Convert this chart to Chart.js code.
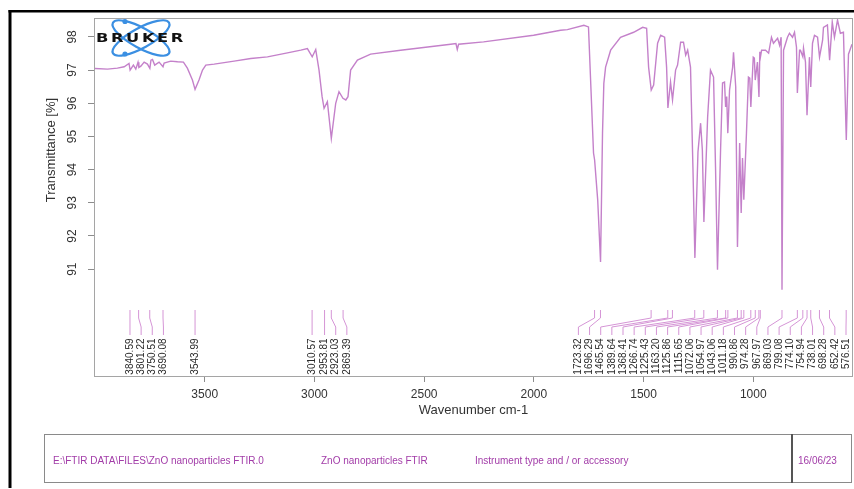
<!DOCTYPE html>
<html>
<head>
<meta charset="utf-8">
<title>ZnO nanoparticles FTIR</title>
<script src="https://cdn.jsdelivr.net/npm/chart.js@4.4.0/dist/chart.umd.min.js"></script>
<style>
    html, body { margin: 0; padding: 0; background: #fff; }
    #wrap { position: relative; width: 854px; height: 489px; overflow: hidden; }
    #grafikFtir { position: absolute; left: 0; top: 0; }
    .footer {
        position: absolute; left: 44px; top: 434px; width: 808px; height: 49px;
        border: 1px solid #8a8a8a; box-sizing: border-box;
        font-family: "Liberation Sans", Arial, sans-serif; font-size: 10px; color: #a23ca8;
    }
    .footer span { position: absolute; top: 20px; white-space: nowrap; }
    .footer .sep { position: absolute; left: 746px; top: -1px; bottom: -1px; width: 2px; background: #555; }
</style>
</head>
<body>
<div id="wrap">
    <canvas id="grafikFtir" width="854" height="489"></canvas>
    <div class="footer">
        <span style="left:8px">E:\FTIR DATA\FILES\ZnO nanoparticles FTIR.0</span>
        <span style="left:276px">ZnO nanoparticles FTIR</span>
        <span style="left:430px">Instrument type and / or accessory</span>
        <div class="sep"></div>
        <span style="left:753px">16/06/23</span>
    </div>
</div>
<script>
let chart;

const FONT = '"Liberation Sans", Arial, sans-serif';

// spectrum (cm-1, %T)
const wavenumbers = [
    4000, 3943, 3898, 3867, 3845, 3840, 3825, 3814, 3804, 3800, 3791, 3776, 3761, 3750, 3745,
    3738, 3728, 3708, 3690, 3685, 3655, 3624, 3597, 3579, 3556, 3544, 3526, 3510, 3495, 3457,
    3366, 3290, 3214, 3123, 3062, 3032, 3010, 2994, 2979, 2965, 2956, 2941, 2923, 2903, 2888,
    2870, 2857, 2847, 2835, 2804, 2744, 2607, 2379, 2355, 2349, 2343, 2229, 2001, 1878, 1847,
    1772, 1751, 1728, 1723, 1709, 1696, 1687, 1681, 1673, 1650, 1605, 1545, 1504, 1486, 1477,
    1465, 1454, 1436, 1422, 1404, 1395, 1389, 1377, 1368, 1354, 1345, 1331, 1318, 1308, 1299,
    1286, 1275, 1266, 1252, 1240, 1232, 1225, 1208, 1195, 1181, 1172, 1163, 1149, 1140, 1131,
    1126, 1121, 1116, 1108, 1094, 1090, 1080, 1072, 1062, 1055, 1049, 1043, 1031, 1022, 1016,
    1011, 1000, 995, 991, 981, 974, 970, 967, 962, 944, 930, 917, 908, 889, 880,
    873, 869, 862, 844, 835, 821, 812, 803, 799, 789, 785, 774, 771, 762, 755,
    744, 738, 730, 721, 707, 698, 684, 680, 662, 652, 640, 630, 616, 603, 589,
    576, 566, 550
];
const transmittance = [
    97.05, 97.03, 97.06, 97.10, 97.20, 97.00, 97.15, 97.03, 97.24, 97.08, 97.12, 97.24, 97.18, 97.05, 97.30,
    97.32, 97.15, 97.24, 97.10, 97.21, 97.27, 97.25, 97.24, 97.06, 96.70, 96.42, 96.70, 97.00, 97.15, 97.18,
    97.27, 97.35, 97.40, 97.52, 97.60, 97.65, 97.40, 97.62, 97.00, 96.20, 95.85, 96.05, 94.94, 96.00, 96.35,
    96.15, 96.10, 96.20, 97.00, 97.30, 97.48, 97.60, 97.78, 97.80, 97.62, 97.78, 97.85, 98.05, 98.20, 98.22,
    98.35, 98.30, 94.50, 94.29, 93.09, 91.22, 95.10, 96.60, 97.09, 97.60, 97.99, 98.14, 98.29, 98.26, 97.09,
    96.40, 96.55, 97.81, 98.05, 97.99, 97.09, 95.86, 96.64, 96.10, 97.00, 97.15, 97.84, 97.84, 97.45, 97.60,
    97.09, 94.08, 91.34, 94.53, 95.40, 94.59, 92.42, 95.58, 97.00, 96.79, 94.08, 90.98, 94.59, 96.61, 96.64,
    95.89, 96.20, 95.10, 96.40, 97.09, 97.54, 96.50, 91.67, 94.80, 92.69, 94.35, 93.09, 95.10, 96.79, 96.76,
    95.89, 97.39, 97.36, 96.70, 97.24, 96.19, 97.55, 97.40, 97.60, 97.60, 97.51, 97.99, 97.81, 97.96, 97.75,
    97.99, 90.38, 97.60, 97.99, 98.11, 97.99, 98.14, 97.69, 96.31, 97.60, 97.60, 97.40, 97.66, 97.24, 95.64,
    97.39, 96.49, 97.81, 98.05, 97.99, 97.39, 97.90, 98.29, 98.36, 97.30, 98.45, 97.99, 98.51, 98.11, 98.14,
    94.89, 97.48, 97.78
];

// picked peaks, left to right
const peakPositions = [
    3840.59, 3801.22, 3750.51, 3690.08, 3543.99, 3010.57, 2953.81, 2923.03, 2869.39,
    1723.32, 1696.29, 1465.54, 1389.64, 1368.41, 1266.74, 1225.43, 1163.20, 1125.86, 1115.65,
    1072.06, 1054.97, 1043.06, 1011.18, 990.86, 974.28, 967.97, 869.03, 799.08, 774.10,
    754.94, 738.01, 698.28, 652.42, 576.51
];

const xTicks = [3500, 3000, 2500, 2000, 1500, 1000];
const yTicks = [91, 92, 93, 94, 95, 96, 97, 98];

// frame, box round the plot, rotated y labels
const framePlugin = {
    id: "frame",
    afterDraw(c) {
        const { ctx, chartArea: a, scales } = c;
        ctx.save();
        ctx.fillStyle = "#000";
        ctx.fillRect(8.5, 10, 3, 478);
        ctx.fillRect(8.5, 10, 846, 2.5);

        ctx.strokeStyle = "#a5a5a5";
        ctx.lineWidth = 1;
        ctx.strokeRect(Math.round(a.left) - 0.5, Math.round(a.top) - 0.5, a.width + 1, a.height + 1);

        ctx.fillStyle = "#333";
        ctx.font = "12px " + FONT;
        ctx.textAlign = "center";
        ctx.textBaseline = "middle";
        yTicks.forEach(v => {
            ctx.save();
            ctx.translate(73, scales.y.getPixelForValue(v));
            ctx.rotate(-Math.PI / 2);
            ctx.fillText(String(v), 0, 0);
            ctx.restore();
        });

        ctx.font = "13px " + FONT;
        const mid = (scales.y.getPixelForValue(yTicks[0]) + scales.y.getPixelForValue(yTicks[yTicks.length - 1])) / 2;
        ctx.translate(51, mid - 3);
        ctx.rotate(-Math.PI / 2);
        ctx.fillText("Transmittance [%]", 0, 0);
        ctx.restore();
    }
};

// peak markers with spread-out labels
const peakPlugin = {
    id: "peaks",
    afterDatasetsDraw(c) {
        const { ctx, chartArea: a, scales } = c;
        const gap = 11.15;
        const px = peakPositions.map(w => scales.x.getPixelForValue(w));
        const pos = px.slice();
        for (let i = 1; i < pos.length; i++) pos[i] = Math.max(pos[i], pos[i - 1] + gap);
        pos[pos.length - 1] = Math.min(pos[pos.length - 1], a.right - 6);
        for (let i = pos.length - 2; i >= 0; i--) pos[i] = Math.min(pos[i], pos[i + 1] - gap);

        const yTop = a.bottom - 66, yB1 = a.bottom - 58, yB2 = a.bottom - 49, yEnd = a.bottom - 41;
        ctx.save();
        ctx.strokeStyle = "#d595d6";
        ctx.lineWidth = 1;
        ctx.fillStyle = "#2a2a2a";
        ctx.font = "10px " + FONT;
        ctx.textAlign = "right";
        ctx.textBaseline = "middle";
        peakPositions.forEach((w, i) => {
            ctx.beginPath();
            ctx.moveTo(px[i], yTop);
            ctx.lineTo(px[i], yB1);
            ctx.lineTo(pos[i], yB2);
            ctx.lineTo(pos[i], yEnd);
            ctx.stroke();
            ctx.save();
            ctx.translate(pos[i], a.bottom - 37.5);
            ctx.rotate(-Math.PI / 2);
            ctx.fillText(w.toFixed(2), 0, 0);
            ctx.restore();
        });
        ctx.restore();
    }
};

// BRUKER logo, top left
const logoPlugin = {
    id: "logo",
    afterDraw(c) {
        const ctx = c.ctx;
        ctx.save();
        ctx.strokeStyle = "#3b8fe2";
        ctx.fillStyle = "#3b8fe2";
        ctx.lineWidth = 2.2;
        ctx.beginPath();
        ctx.ellipse(141, 38, 32, 10, 0.5, 0, 2 * Math.PI);
        ctx.stroke();
        ctx.beginPath();
        ctx.ellipse(141, 38, 32, 10, -0.5, 0, 2 * Math.PI);
        ctx.stroke();
        ctx.beginPath();
        ctx.arc(125, 21.5, 2.6, 0, 2 * Math.PI);
        ctx.arc(125, 54, 2.6, 0, 2 * Math.PI);
        ctx.fill();

        ctx.fillStyle = "#111";
        ctx.font = "bold 12.5px 'DejaVu Sans'";
        ctx.textBaseline = "middle";
        ctx.textAlign = "left";
        ctx.translate(96, 38.5);
        ctx.scale(1.3, 1);
        if ("letterSpacing" in ctx) ctx.letterSpacing = "2px";
        ctx.fillText("BRUKER", 0, 0);
        ctx.restore();
    }
};

document.addEventListener("DOMContentLoaded", function () {
    const ctx = document.getElementById("grafikFtir");

    chart = new Chart(ctx, {
        type: "line",
        data: {
            datasets: [{
                data: wavenumbers.map((w, i) => ({ x: w, y: transmittance[i] })),
                borderColor: "#c481ca",
                borderWidth: 1.4,
                pointRadius: 0,
                tension: 0,
                fill: false
            }]
        },
        options: {
            responsive: false,
            animation: false,
            layout: { padding: { top: 19, right: 2, left: 0, bottom: 0 } },
            plugins: { legend: { display: false }, tooltip: { enabled: false } },
            scales: {
                x: {
                    type: "linear",
                    reverse: true,
                    min: 550,
                    max: 4000,
                    afterBuildTicks: s => { s.ticks = xTicks.map(v => ({ value: v })); },
                    afterFit: s => { s.height = 113; },
                    grid: { drawOnChartArea: false, tickLength: 6, color: "#8c8c8c" },
                    border: { display: false },
                    ticks: {
                        padding: 5, color: "#333", maxRotation: 0, autoSkip: false,
                        font: { size: 12, family: FONT },
                        callback: v => String(v)
                    },
                    title: {
                        display: true, text: "Wavenumber cm-1", color: "#333",
                        font: { size: 13, family: FONT },
                        padding: { top: 0, bottom: 71 }
                    }
                },
                y: {
                    min: 87.78,
                    max: 98.54,
                    afterBuildTicks: s => { s.ticks = yTicks.map(v => ({ value: v })); },
                    afterFit: s => { s.width = 95; },
                    grid: { drawOnChartArea: false, tickLength: 7, color: "#8c8c8c" },
                    border: { display: false },
                    ticks: { display: false }
                }
            }
        },
        plugins: [framePlugin, peakPlugin, logoPlugin]
    });
});
</script>
</body>
</html>
